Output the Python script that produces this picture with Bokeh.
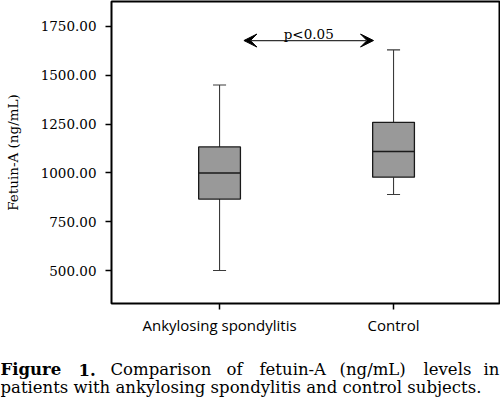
import numpy as np
from bokeh.plotting import figure
from bokeh.layouts import column
from bokeh.models import Range1d, FixedTicker, PrintfTickFormatter, Label, Arrow, VeeHead
from bokeh.embed import file_html
from bokeh.resources import INLINE

# ---- data ----
groups = ["Ankylosing spondylitis", "Control"]
positions = [1, 2]
q1 = [866, 978]
medians = [1000, 1110]
q3 = [1133, 1259]
lower = [500, 889]
upper = [1450, 1630]
y_ticks = [500, 750, 1000, 1250, 1500, 1750]
sig_text = "p<0.05"
sig_x_from = 1.14
sig_x_to = 1.885
sig_y = 1678

caption1_words = ["Figure", "1.", "Comparison", "of", "fetuin-A", "(ng/mL)", "levels", "in"]
caption1_bold = [True, True, False, False, False, False, False, False]
caption2 = "patients with ankylosing spondylitis and control subjects."

# ---- style / layout ----
BOX_W = 0.24
CAP_W = 0.075
SERIF = "DejaVu Serif"
SANS = "Open Sans"

fig = figure(width=500, height=340, output_backend="svg", toolbar_location=None,
             x_range=Range1d(0.379, 2.609), y_range=Range1d(331, 1878),
             min_border_left=111, min_border_right=1, min_border_top=1,
             min_border_bottom=37)
fig.frame_align = False
fig.grid.visible = False
fig.outline_line_color = "black"
fig.outline_line_width = 2
fig.background_fill_color = "white"
fig.border_fill_color = "white"

# y axis
fig.yaxis.ticker = FixedTicker(ticks=y_ticks)
fig.yaxis.formatter = PrintfTickFormatter(format="%.2f")
fig.yaxis.axis_label = "Fetuin-A (ng/mL)"
fig.yaxis.axis_label_text_font = SERIF
fig.yaxis.axis_label_text_font_style = "normal"
fig.yaxis.axis_label_text_font_size = "13.5px"
fig.yaxis.axis_label_standoff = 17
fig.yaxis.major_label_text_font = SERIF
fig.yaxis.major_label_text_font_size = "13.5px"
fig.yaxis.major_label_standoff = 9

# x axis
fig.xaxis.ticker = FixedTicker(ticks=positions)
fig.xaxis.major_label_overrides = {pos: g for pos, g in zip(positions, groups)}
fig.xaxis.major_label_text_font = SANS
fig.xaxis.major_label_text_font_size = "15px"
fig.xaxis.major_label_standoff = 5

for ax in (fig.xaxis, fig.yaxis):
    ax.axis_line_color = None
    ax.major_tick_out = 6
    ax.major_tick_in = 0
    ax.minor_tick_out = 0
    ax.minor_tick_in = 0
    ax.major_tick_line_color = "black"
    ax.major_tick_line_width = 1.5
    ax.major_label_text_color = "black"
    ax.axis_label_text_color = "black"

pos = np.array(positions, dtype=float)

# whiskers
fig.segment(pos, q3, pos, upper, line_color="#3a3a3a", line_width=1.1)
fig.segment(pos, lower, pos, q1, line_color="#3a3a3a", line_width=1.1)
fig.segment(pos - CAP_W / 2, upper, pos + CAP_W / 2, upper, line_color="#3a3a3a", line_width=1.1)
fig.segment(pos - CAP_W / 2, lower, pos + CAP_W / 2, lower, line_color="#3a3a3a", line_width=1.1)

# boxes
fig.vbar(x=pos, width=BOX_W, bottom=q1, top=q3, fill_color="#999999",
         line_color="#1a1a1a", line_width=1.3)
fig.segment(pos - BOX_W / 2, medians, pos + BOX_W / 2, medians,
            line_color="#1a1a1a", line_width=1.5)

# significance arrow
fig.add_layout(Arrow(start=VeeHead(size=13, fill_color="black", line_color="black"),
                     end=VeeHead(size=13, fill_color="black", line_color="black"),
                     x_start=sig_x_from, y_start=sig_y, x_end=sig_x_to, y_end=sig_y,
                     line_color="#333333", line_width=1.2))
fig.add_layout(Label(x=(sig_x_from + sig_x_to) / 2, y=sig_y, y_offset=7, text=sig_text,
                     text_align="center", text_baseline="alphabetic",
                     text_font=SERIF, text_font_size="13.5px", text_color="black"))

# ---- caption panel ----
cap = figure(width=500, height=58, output_backend="svg", toolbar_location=None,
             x_range=Range1d(0, 1), y_range=Range1d(0, 1),
             x_axis_type=None, y_axis_type=None,
             min_border_left=0, min_border_right=0, min_border_top=0, min_border_bottom=0)
cap.frame_align = False
cap.grid.visible = False
cap.outline_line_color = None
cap.background_fill_color = "white"
cap.border_fill_color = "white"

cap1_x = [0, 78, 110, 226, 259, 339, 423, 499]
for i, (w, b, x) in enumerate(zip(caption1_words, caption1_bold, cap1_x)):
    cap.add_layout(Label(x=x, y=29, x_units="screen", y_units="screen", text=w,
                         text_baseline="alphabetic", text_font=SERIF,
                         text_align="right" if i == len(caption1_words) - 1 else "left",
                         text_font_size="16.5px", text_color="black",
                         text_font_style="bold" if b else "normal"))
cap.add_layout(Label(x=0, y=11, x_units="screen", y_units="screen", text=caption2,
                     text_baseline="alphabetic", text_font=SERIF,
                     text_font_size="16.5px", text_color="black"))

page = column(fig, cap, spacing=0)
open("out.html", "w").write(file_html(page, INLINE))
